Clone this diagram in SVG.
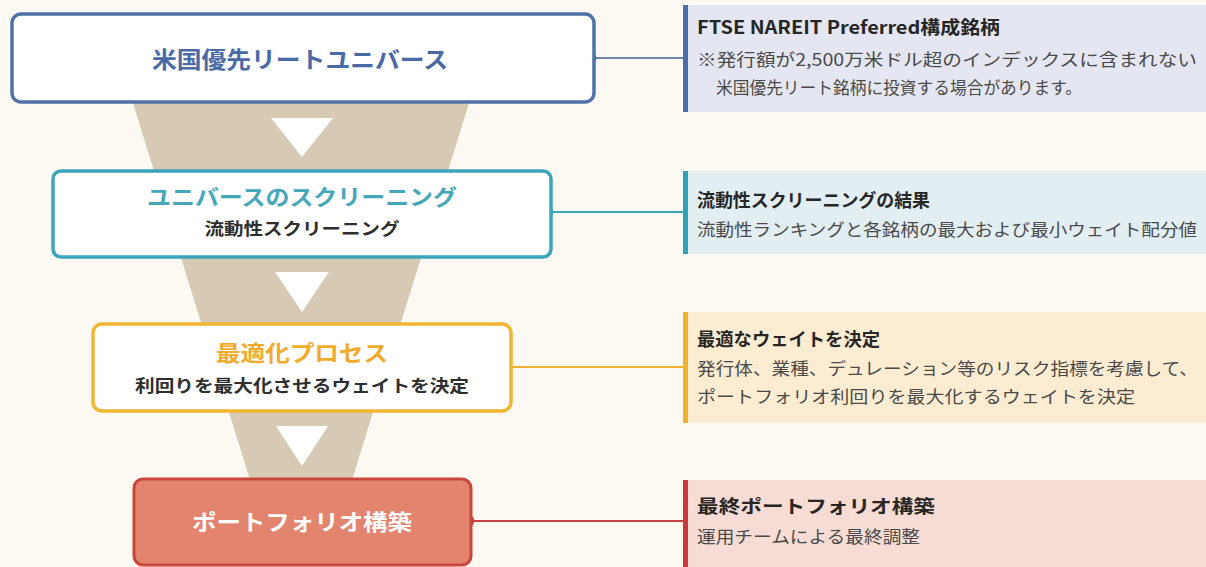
<svg xmlns="http://www.w3.org/2000/svg" width="1206" height="567" viewBox="0 0 1206 567">
<style>
text{font-family:"Noto Sans CJK JP","Noto Sans",sans-serif}
.bt{font-weight:700;text-anchor:middle}
.pt{font-weight:700;font-size:18px;fill:#262626}
.pb{font-size:17px;fill:#4a4a4a}
.tri{fill:#ffffff}
</style>
<rect width="1206" height="567" fill="#fbf9f1"/>
<polygon points="132,100 470,100 352,480 250,480" fill="#d6cab5"/>
<polygon class="tri" points="271,118 333,118 302,157"/>
<polygon class="tri" points="275,272 329,272 302,312"/>
<polygon class="tri" points="276,426 328,426 302,466"/>
<g id="connectors">
<line x1="592" y1="58" x2="685" y2="58" stroke="#6f86ad" stroke-width="2"/>
<circle cx="592" cy="58" r="4.5" fill="#4f72a8"/>
<line x1="549" y1="212" x2="685" y2="212" stroke="#3aa3b8" stroke-width="2"/>
<circle cx="549" cy="212" r="4.5" fill="#3aa3b8"/>
<line x1="508" y1="367" x2="685" y2="367" stroke="#f0b030" stroke-width="2"/>
<circle cx="508" cy="367" r="4.5" fill="#f0b030"/>
<line x1="470" y1="521" x2="685" y2="521" stroke="#c94040" stroke-width="2"/>
<circle cx="468" cy="521" r="5" fill="#ffffff" stroke="#c94040" stroke-width="2.5"/>
</g>
<g id="node1">
<rect x="12" y="14" width="582" height="88" rx="9" fill="#ffffff" stroke="#4f72a8" stroke-width="3.5"/>
<text class="bt" x="300" y="68" font-size="23" fill="#4a6aa6" textLength="296" lengthAdjust="spacingAndGlyphs">米国優先リートユニバース</text>
</g>
<g id="node2">
<rect x="53" y="171" width="498" height="86" rx="8" fill="#ffffff" stroke="#3da5bb" stroke-width="3.5"/>
<text class="bt" x="302" y="205" font-size="22" fill="#45a8b9" textLength="310" lengthAdjust="spacingAndGlyphs">ユニバースのスクリーニング</text>
<text class="bt" x="302" y="235" font-size="17" fill="#2e2e2e" textLength="195" lengthAdjust="spacingAndGlyphs">流動性スクリーニング</text>
</g>
<g id="node3">
<rect x="93" y="324" width="418" height="87" rx="9" fill="#ffffff" stroke="#f1b532" stroke-width="3.5"/>
<text class="bt" x="302" y="361" font-size="22" fill="#f0ab2c" textLength="172" lengthAdjust="spacingAndGlyphs">最適化プロセス</text>
<text class="bt" x="302" y="392" font-size="17" fill="#2e2e2e" textLength="334" lengthAdjust="spacingAndGlyphs">利回りを最大化させるウェイトを決定</text>
</g>
<g id="node4">
<rect x="134" y="479" width="337" height="86" rx="9" fill="#e3846e" stroke="#c9463a" stroke-width="3"/>
<text class="bt" x="302" y="530" font-size="22" fill="#ffffff" textLength="220" lengthAdjust="spacingAndGlyphs">ポートフォリオ構築</text>
</g>
<g id="panel1">
<rect x="685" y="5" width="521" height="107" fill="#e4e7f1"/>
<rect x="683" y="5" width="5" height="107" fill="#4a6fa8"/>
<text class="pt" x="697" y="34" textLength="303" lengthAdjust="spacingAndGlyphs">FTSE NAREIT Preferred構成銘柄</text>
<text class="pb" x="697" y="66" textLength="500" lengthAdjust="spacingAndGlyphs">※発行額が2,500万米ドル超のインデックスに含まれない</text>
<text class="pb" x="716" y="94" textLength="366" lengthAdjust="spacingAndGlyphs">米国優先リート銘柄に投資する場合があります。</text>
</g>
<g id="panel2">
<rect x="685" y="171" width="521" height="83" fill="#e2eef2"/>
<rect x="683" y="171" width="5" height="83" fill="#2fa0b5"/>
<text class="pt" x="697" y="207" textLength="233" lengthAdjust="spacingAndGlyphs">流動性スクリーニングの結果</text>
<text class="pb" x="697" y="236" textLength="500" lengthAdjust="spacingAndGlyphs">流動性ランキングと各銘柄の最大および最小ウェイト配分値</text>
</g>
<g id="panel3">
<rect x="685" y="312" width="521" height="111" fill="#fcecd2"/>
<rect x="683" y="312" width="5" height="111" fill="#f0b030"/>
<text class="pt" x="697" y="346" textLength="183" lengthAdjust="spacingAndGlyphs">最適なウェイトを決定</text>
<text class="pb" x="697" y="375" textLength="501" lengthAdjust="spacingAndGlyphs">発行体、業種、デュレーション等のリスク指標を考慮して、</text>
<text class="pb" x="697" y="403" textLength="438" lengthAdjust="spacingAndGlyphs">ポートフォリオ利回りを最大化するウェイトを決定</text>
</g>
<g id="panel4">
<rect x="685" y="480" width="521" height="87" fill="#f6dcd4"/>
<rect x="683" y="480" width="5" height="87" fill="#c8383a"/>
<text class="pt" x="697" y="513" textLength="238" lengthAdjust="spacingAndGlyphs">最終ポートフォリオ構築</text>
<text class="pb" x="697" y="543" textLength="223" lengthAdjust="spacingAndGlyphs">運用チームによる最終調整</text>
</g>
</svg>
